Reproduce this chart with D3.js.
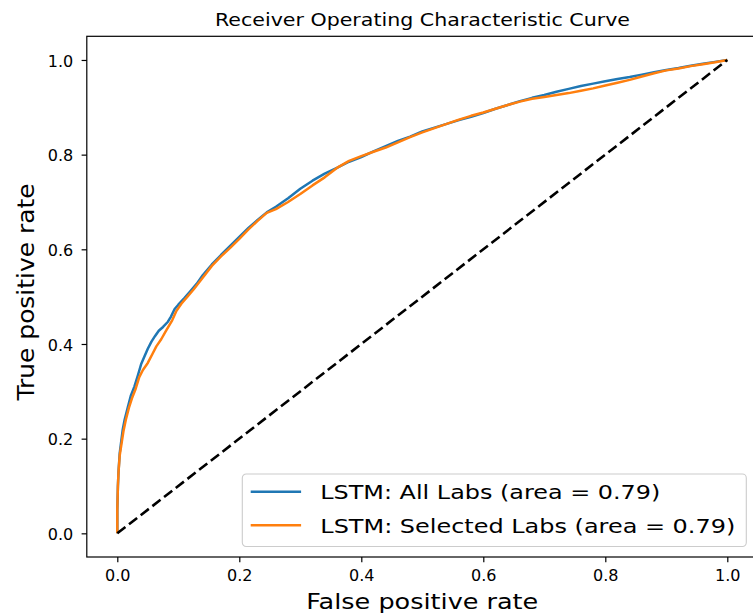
<!DOCTYPE html>
<html>
<head>
<meta charset="utf-8">
<script src="https://cdn.jsdelivr.net/npm/d3@7"></script>
<style>
  body { margin: 0; background: #fff; }
  svg text { font-family: "DejaVu Sans", sans-serif; fill: #000; }
</style>
</head>
<body>
<div id="chart"></div>
<script>
//define SVG size
var svgWidth = 753;
var svgHeight = 616;

//axes box (matplotlib style, right side runs past the canvas)
var margin = { top: 36.3, left: 86.8 };
var plotWidth = 671;
var plotHeight = 520.7;

//series: All Labs (false positive rate, true positive rate)
var allLabsFpr = [0, 0, 0.001, 0.002, 0.004, 0.006, 0.009, 0.012, 0.017, 0.022, 0.028, 0.034, 0.039, 0.045, 0.05, 0.056, 0.062, 0.068, 0.075, 0.083, 0.088, 0.094, 0.1, 0.11, 0.12, 0.13, 0.14, 0.155, 0.17, 0.185, 0.2, 0.215, 0.23, 0.245, 0.26, 0.28, 0.3, 0.32, 0.34, 0.36, 0.38, 0.4, 0.42, 0.44, 0.46, 0.48, 0.5, 0.52, 0.54, 0.56, 0.58, 0.6, 0.62, 0.64, 0.66, 0.68, 0.7, 0.72, 0.74, 0.76, 0.78, 0.8, 0.82, 0.84, 0.86, 0.88, 0.9, 0.92, 0.94, 0.96, 0.98, 1.0];
var allLabsTpr = [0, 0.05, 0.1, 0.13, 0.17, 0.19, 0.22, 0.24, 0.265, 0.29, 0.31, 0.335, 0.357, 0.375, 0.39, 0.405, 0.417, 0.428, 0.436, 0.447, 0.458, 0.474, 0.483, 0.497, 0.512, 0.527, 0.545, 0.568, 0.588, 0.607, 0.626, 0.645, 0.662, 0.678, 0.69, 0.708, 0.728, 0.745, 0.76, 0.772, 0.785, 0.795, 0.807, 0.818, 0.829, 0.838, 0.849, 0.857, 0.865, 0.873, 0.88, 0.888, 0.897, 0.905, 0.913, 0.92, 0.926, 0.933, 0.939, 0.945, 0.95, 0.955, 0.96, 0.964, 0.969, 0.974, 0.979, 0.983, 0.988, 0.992, 0.996, 1.0];

//series: Selected Labs
var selLabsFpr = [0, 0, 0.001, 0.002, 0.004, 0.007, 0.01, 0.014, 0.019, 0.024, 0.03, 0.036, 0.042, 0.05, 0.058, 0.064, 0.072, 0.08, 0.09, 0.097, 0.105, 0.115, 0.125, 0.14, 0.155, 0.17, 0.185, 0.2, 0.215, 0.23, 0.245, 0.26, 0.28, 0.3, 0.32, 0.34, 0.36, 0.38, 0.4, 0.42, 0.44, 0.46, 0.48, 0.5, 0.52, 0.54, 0.56, 0.58, 0.6, 0.62, 0.64, 0.66, 0.68, 0.7, 0.72, 0.74, 0.76, 0.78, 0.8, 0.82, 0.84, 0.86, 0.88, 0.9, 0.92, 0.94, 0.96, 0.98, 1.0];
var selLabsTpr = [0, 0.05, 0.1, 0.13, 0.165, 0.19, 0.215, 0.24, 0.265, 0.285, 0.305, 0.33, 0.345, 0.36, 0.38, 0.395, 0.41, 0.428, 0.45, 0.47, 0.485, 0.5, 0.515, 0.54, 0.565, 0.585, 0.603, 0.622, 0.642, 0.66, 0.677, 0.685, 0.7, 0.717, 0.735, 0.752, 0.772, 0.787, 0.797, 0.806, 0.815, 0.826, 0.837, 0.847, 0.856, 0.865, 0.874, 0.882, 0.889, 0.897, 0.905, 0.912, 0.918, 0.922, 0.926, 0.93, 0.935, 0.94, 0.946, 0.952, 0.958, 0.965, 0.972, 0.978, 0.982, 0.987, 0.991, 0.995, 1.0];

//chance line
var chanceX = [0, 1];
var chanceY = [0, 1];

//tick values and legend labels
var xTicks = [0, 0.2, 0.4, 0.6, 0.8, 1.0];
var yTicks = [0, 0.2, 0.4, 0.6, 0.8, 1.0];
var seriesNames = ["LSTM: All Labs (area = 0.79)", "LSTM: Selected Labs (area = 0.79)"];
var seriesColors = ["#1f77b4", "#ff7f0e"];

var svg = d3.select("#chart")
  .append("svg")
  .attr("width", svgWidth)
  .attr("height", svgHeight);

var chartGroup = svg.append("g")
  .attr("transform", `translate(${margin.left}, ${margin.top})`);

// scales with matplotlib's 5% margins
var xScale = d3.scaleLinear().domain([-0.05, 1.05]).range([0, plotWidth]);
var yScale = d3.scaleLinear().domain([-0.05, 1.05]).range([plotHeight, 0]);

// clip to axes
chartGroup.append("clipPath").attr("id", "clip")
  .append("rect").attr("width", plotWidth).attr("height", plotHeight);

var line = d3.line()
  .x(d => xScale(d[0]))
  .y(d => yScale(d[1]));

var plotArea = chartGroup.append("g").attr("clip-path", "url(#clip)");

var allLabs = allLabsFpr.map((x, i) => [x, allLabsTpr[i]]);
var selLabs = selLabsFpr.map((x, i) => [x, selLabsTpr[i]]);
var chance = chanceX.map((x, i) => [x, chanceY[i]]);

plotArea.append("path")
  .datum(allLabs)
  .attr("d", line)
  .attr("fill", "none")
  .attr("stroke", seriesColors[0])
  .attr("stroke-width", 2.5)
  .attr("stroke-linejoin", "round");

plotArea.append("path")
  .datum(selLabs)
  .attr("d", line)
  .attr("fill", "none")
  .attr("stroke", seriesColors[1])
  .attr("stroke-width", 2.5)
  .attr("stroke-linejoin", "round");

plotArea.append("path")
  .datum(chance)
  .attr("d", line)
  .attr("fill", "none")
  .attr("stroke", "#000")
  .attr("stroke-width", 2.6)
  .attr("stroke-dasharray", "10.3,4.5");

// axes
var bottomAxis = d3.axisBottom(xScale).tickValues(xTicks).tickFormat(d3.format(".1f"))
  .tickSize(5.2).tickPadding(8.3);
var leftAxis = d3.axisLeft(yScale).tickValues(yTicks).tickFormat(d3.format(".1f"))
  .tickSize(5.2).tickPadding(8.3);

var xAxis = chartGroup.append("g")
  .attr("transform", `translate(0, ${plotHeight})`)
  .call(bottomAxis);
var yAxis = chartGroup.append("g").call(leftAxis);

[xAxis, yAxis].forEach(function(ax) {
  ax.select(".domain").remove();
  ax.selectAll(".tick line").attr("stroke", "#000").attr("stroke-width", 1.2);
  ax.selectAll(".tick text").attr("font-size", 15).attr("fill", "#000")
    .attr("textLength", 25.5).attr("lengthAdjust", "spacingAndGlyphs")
    .style("font-family", "DejaVu Sans, sans-serif");
});
yAxis.selectAll(".tick text").attr("dy", "0.42em");

// spines
chartGroup.append("rect")
  .attr("width", plotWidth)
  .attr("height", plotHeight)
  .attr("fill", "none")
  .attr("stroke", "#000")
  .attr("stroke-width", 1.2);

// title and axis labels (widths)
svg.append("text")
  .attr("x", 422.5)
  .attr("y", 25.7)
  .attr("text-anchor", "middle")
  .attr("font-size", 18.5)
  .attr("textLength", 415).attr("lengthAdjust", "spacingAndGlyphs")
  .text("Receiver Operating Characteristic Curve");

svg.append("text")
  .attr("x", 422.3)
  .attr("y", 609)
  .attr("text-anchor", "middle")
  .attr("font-size", 20.5)
  .attr("textLength", 232).attr("lengthAdjust", "spacingAndGlyphs")
  .text("False positive rate");

svg.append("text")
  .attr("transform", "translate(34, 292) rotate(-90)")
  .attr("text-anchor", "middle")
  .attr("font-size", 23)
  .attr("textLength", 217).attr("lengthAdjust", "spacingAndGlyphs")
  .text("True positive rate");

// legend (lower right)
var legendWidths = [340, 415];
var legend = svg.append("g").attr("transform", "translate(242.3, 474)");
legend.append("rect")
  .attr("width", 504)
  .attr("height", 72.5)
  .attr("rx", 3.9)
  .attr("fill", "#fff")
  .attr("fill-opacity", 0.8)
  .attr("stroke", "#cccccc")
  .attr("stroke-width", 1.1);

seriesNames.forEach(function(name, i) {
  var cy = 17.8 + i * 33.5;
  legend.append("line")
    .attr("x1", 8.4).attr("x2", 58.8)
    .attr("y1", cy).attr("y2", cy)
    .attr("stroke", seriesColors[i])
    .attr("stroke-width", 2.5);
  legend.append("text")
    .attr("x", 78)
    .attr("y", cy + 7.3)
    .attr("font-size", 20)
    .attr("textLength", legendWidths[i]).attr("lengthAdjust", "spacingAndGlyphs")
    .text(name);
});
</script>
</body>
</html>
